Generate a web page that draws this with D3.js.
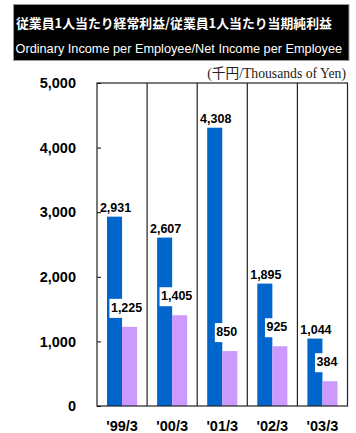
<!DOCTYPE html>
<html>
<head>
<meta charset="utf-8">
<script src="https://cdn.jsdelivr.net/npm/d3@7"></script>
<style>
  html, body { margin: 0; padding: 0; background: #fff; }
  svg { display: block; }
</style>
</head>
<body>
<script>
// ---- Data ----
const categories = ["'99/3", "'00/3", "'01/3", "'02/3", "'03/3"];
const ordinaryIncome = [2931, 2607, 4308, 1895, 1044];
const netIncome = [1225, 1405, 850, 925, 384];
const yTicks = [0, 1000, 2000, 3000, 4000, 5000];
const titleJa = "従業員1人当たり経常利益/従業員1人当たり当期純利益";
const titleEn = "Ordinary Income per Employee/Net Income per Employee";
const unitLabel = "(千円/Thousands of Yen)";

// ---- Layout ----
const W = 356, H = 433;
const plot = { left: 97, right: 347.5, top: 83, bottom: 406 };
const blue = "#0066cc", purple = "#cc99ff";
const fmt = d3.format(",");

const svg = d3.select("body").append("svg").attr("width", W).attr("height", H);

// fit a text node to a target width by adjusting its font size
function fitWidth(sel, target, base) {
  const n = sel.node();
  const w = n.getComputedTextLength();
  if (w > 0) sel.attr("font-size", base * target / w);
  return sel;
}

// Title box
svg.append("rect").attr("x", 13.5).attr("y", 4.5).attr("width", 335.5).attr("height", 56)
  .attr("fill", "#000").attr("stroke", "#999").attr("stroke-width", 1);
const t1 = svg.append("text").attr("x", 16).attr("y", 27.5)
  .attr("font-family", "'Noto Sans CJK JP', sans-serif").attr("font-weight", "bold")
  .attr("font-size", 13).attr("fill", "#fff")
  .text(titleJa);
fitWidth(t1, 316, 13);
const t2 = svg.append("text").attr("x", 15.5).attr("y", 53)
  .attr("font-family", "'Liberation Sans', Arial, sans-serif")
  .attr("font-size", 13.5).attr("fill", "#fff")
  .text(titleEn);
fitWidth(t2, 327, 13.5);

// Unit label
const tu = svg.append("text").attr("x", 346).attr("y", 78).attr("text-anchor", "end")
  .attr("font-family", "'Liberation Serif', 'Times New Roman', 'Noto Sans CJK JP', serif")
  .attr("font-size", 12.5).attr("fill", "#222")
  .text(unitLabel);
fitWidth(tu, 139, 12.5);

// Scales
const x0 = d3.scaleBand().domain(categories).range([plot.left, plot.right]).paddingInner(0).paddingOuter(0);
const bw = x0.bandwidth();
const x1 = d3.scaleBand().domain(["ord", "net"]).range([10, bw - 10]);
const y = d3.scaleLinear().domain([0, 5000]).range([plot.bottom, plot.top]);

// Y axis
const yAxis = d3.axisLeft(y).tickValues(yTicks).tickFormat(fmt).tickSize(-4).tickPadding(21);
const gy = svg.append("g").attr("transform", `translate(${plot.left},0)`).call(yAxis);
gy.select(".domain").remove();
gy.selectAll(".tick line").attr("stroke", "#000");
gy.selectAll(".tick text")
  .attr("font-family", "'Liberation Sans', Arial, sans-serif")
  .attr("font-weight", "bold").attr("font-size", 14.5).attr("fill", "#000");

// Bars
const groups = svg.append("g").selectAll("g").data(categories).join("g")
  .attr("transform", d => `translate(${x0(d)},0)`);

groups.append("rect")
  .attr("x", x1("ord")).attr("width", x1.bandwidth())
  .attr("y", (d, i) => y(ordinaryIncome[i]))
  .attr("height", (d, i) => y(0) - y(ordinaryIncome[i]))
  .attr("fill", blue);

groups.append("rect")
  .attr("x", x1("net")).attr("width", x1.bandwidth())
  .attr("y", (d, i) => y(netIncome[i]))
  .attr("height", (d, i) => y(0) - y(netIncome[i]))
  .attr("fill", purple);

// Frame and dividers
const frame = svg.append("g").attr("stroke", "#222").attr("stroke-width", 1.2).attr("fill", "none");
frame.append("rect").attr("x", plot.left).attr("y", plot.top)
  .attr("width", plot.right - plot.left).attr("height", plot.bottom - plot.top);
frame.selectAll("line.div").data(categories.slice(1)).join("line").attr("class", "div")
  .attr("x1", d => x0(d)).attr("x2", d => x0(d))
  .attr("y1", plot.top).attr("y2", plot.bottom);

// Labels for ordinary income (above blue bars)
const lblFont = "'Liberation Sans', Arial, sans-serif";
groups.append("text")
  .attr("x", x1("ord") + x1.bandwidth() / 2 + 1)
  .attr("y", (d, i) => y(ordinaryIncome[i]) - 5)
  .attr("text-anchor", "middle")
  .attr("font-family", lblFont).attr("font-weight", "bold").attr("font-size", 12.5)
  .attr("fill", "#000")
  .text((d, i) => fmt(ordinaryIncome[i]));

// Labels for net income (white box above purple bars)
const netLbl = groups.append("g")
  .attr("transform", (d, i) => `translate(${x1("net") + x1.bandwidth() / 2 - 3},${y(netIncome[i]) - 15})`);
netLbl.append("text")
  .attr("x", 0).attr("y", 0)
  .attr("text-anchor", "middle")
  .attr("font-family", lblFont).attr("font-weight", "bold").attr("font-size", 12.5)
  .attr("fill", "#000")
  .text((d, i) => fmt(netIncome[i]));
netLbl.each(function () {
  const g = d3.select(this);
  const t = g.select("text").node();
  const w = t.getComputedTextLength();
  g.insert("rect", "text")
    .attr("x", -w / 2 - 1.5).attr("y", -13)
    .attr("width", w + 3).attr("height", 19)
    .attr("fill", "#fff");
});

// X labels
svg.append("g").selectAll("text").data(categories).join("text")
  .attr("x", d => x0(d) + bw / 2)
  .attr("y", 430.5)
  .attr("text-anchor", "middle")
  .attr("font-family", lblFont).attr("font-weight", "bold").attr("font-size", 14.5)
  .attr("fill", "#000")
  .text(d => d);
</script>
</body>
</html>
